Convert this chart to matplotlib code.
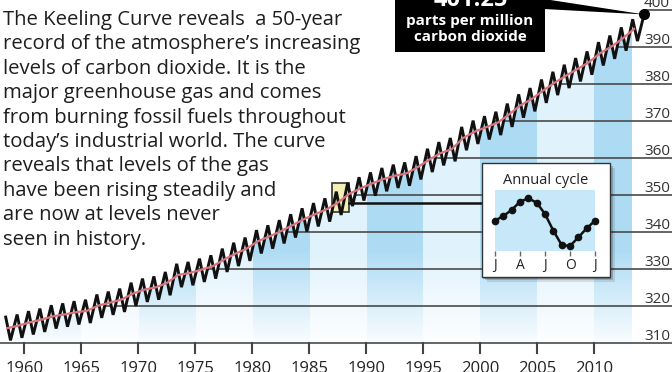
import numpy as np
import matplotlib
matplotlib.use("Agg")
import matplotlib.pyplot as plt
from matplotlib.patches import Rectangle, Polygon

plt.rcParams['font.family'] = ['Open Sans', 'DejaVu Sans']

# --- data (ppm) ---
years = list(range(1958, 2015))
annual_mean = [314.0, 314.7, 315.6, 316.3, 317.2, 317.7, 318.3, 318.7, 320.1, 320.9,
               321.7, 323.3, 324.4, 325.0, 326.2, 328.4, 328.9, 329.8, 330.7, 332.5,
               334.1, 335.5, 337.5, 338.8, 340.2, 341.8, 343.4, 344.8, 346.1, 347.9,
               350.3, 351.8, 353.1, 354.3, 355.2, 355.8, 357.5, 359.5, 361.3, 362.4,
               365.4, 367.1, 368.3, 369.5, 371.7, 374.2, 375.9, 378.2, 380.3, 382.2,
               384.0, 385.8, 388.3, 390.1, 392.3, 394.9]
# spring maximum and autumn minimum of each year
peaks = [317.0, 317.7, 318.6, 319.3, 320.2, 320.7, 321.3, 321.7, 323.1, 323.9,
         324.7, 326.3, 327.4, 328.0, 329.2, 331.4, 331.9, 332.8, 333.7, 335.5,
         337.1, 338.5, 340.5, 341.8, 343.2, 344.8, 346.4, 347.8, 349.1, 350.9,
         353.3, 354.8, 356.1, 357.3, 358.2, 358.8, 360.5, 362.5, 364.3, 365.4,
         368.4, 370.1, 371.3, 372.5, 374.7, 377.2, 378.9, 381.2, 383.3, 385.2,
         387.0, 388.8, 391.3, 393.1, 395.3, 397.5, 398.8]
troughs = [310.7, 311.4, 312.3, 313.0, 313.9, 314.4, 315.0, 315.4, 316.8, 317.6,
           318.4, 320.0, 321.1, 321.7, 322.9, 325.1, 325.6, 326.5, 327.4, 329.2,
           330.8, 332.2, 334.2, 335.5, 336.9, 338.5, 340.1, 341.5, 342.8, 344.6,
           347.0, 348.5, 349.8, 351.0, 351.9, 352.5, 354.2, 356.2, 358.0, 359.1,
           362.1, 363.8, 365.0, 366.2, 368.4, 370.9, 372.6, 374.9, 377.0, 378.9,
           380.7, 382.5, 385.0, 386.8, 389.0, 391.6]
cycle = [0.0, 0.7, 1.6, 2.85, 3.35, 2.7, 1.0, -1.5, -3.65, -3.8, -2.5, -1.15, 0.0]
cycle_labels = ['J', 'A', 'J', 'O', 'J']
tick_years = list(range(1960, 2015, 5))
ppm_ticks = list(range(310, 401, 10))
record = "401.25"

# --- layout: canvas in pixels mapped to data ---
W, H = 672, 372
X0, X1 = 1957.87, 2016.82
YB, YT = 302.16, 402.7


def X(px):
    return X0 + px / W * (X1 - X0)


def Y(py):
    return YT - py / H * (YT - YB)


fig = plt.figure(figsize=(6.72, 3.72), dpi=100)
ax = fig.add_axes([0, 0, 1, 1])
ax.axis('off')

# zigzag curve
cx, cy = [], []
for i, yr in enumerate(years):
    cx.append(yr + 0.37)
    cy.append(peaks[i])
    if i < len(troughs):
        cx.append(yr + 0.79)
        cy.append(troughs[i])

under = Polygon([(X0, YB), (X0, cy[0])] + list(zip(cx, cy)) + [(cx[-1], YB)],
                closed=True, transform=ax.transData)
grid_clip = Polygon([(X0, YB), (X0, cy[0])] + list(zip(cx, cy)) +
                    [(cx[-1], YT), (X1, YT), (X1, YB)],
                    closed=True, transform=ax.transData)

# blue 5-year bands fading towards the bottom
band_end = 2013.25
gx = np.linspace(X0, band_end, 700)
gy = np.linspace(YB, YT, 300)
dark = np.array([0.68, 0.86, 0.96])
light = np.array([0.88, 0.95, 0.99])
even = (np.floor((gx - 1960) / 5).astype(int) % 2) == 0
col = np.where(even[:, None], dark, light)
t = np.clip((gy - 308.1) / 27, 0, 1)
img = 1 - t[:, None, None] * (1 - col[None, :, :])
im = ax.imshow(img, extent=(X0, band_end, YB, YT), origin='lower',
               aspect='auto', interpolation='nearest', zorder=1)
im.set_clip_path(under)

# grid lines only below the curve
for v in ppm_ticks:
    ln, = ax.plot([X0, X1], [v, v], color='#4a4a4a', lw=1.2, zorder=2)
    ln.set_clip_path(grid_clip)
    ax.text(X(670), v + 3 / 3.7, str(v), ha='right', va='baseline',
            fontsize=11, color='#333333', zorder=3)

for yr in tick_years:
    ax.plot([yr, yr], [310, Y(353)], color='#444444', lw=1.5, zorder=2)
    ax.text(yr, Y(373), str(yr), ha='center', va='baseline', fontsize=12,
            color='#222222')

# highlighted year and connector
ax.add_patch(Rectangle((1987.0, 345.4), 1.5, 7.8, fc='#f4efb4', ec='#333333',
                       lw=1.2, zorder=3))
ax.plot([1988.5, X(482)], [347.8, 347.8], color='#111111', lw=1.8, zorder=4)

ax.plot(cx, cy, color='#111111', lw=2.1, zorder=5, solid_joinstyle='miter')
ax.plot([y + 0.5 for y in years[:-1]], annual_mean, color='#d8747c', lw=1.6,
        zorder=6)

# callout
ax.add_patch(Rectangle((X(395), Y(52)), X(545) - X(395), Y(-5) - Y(52),
                       fc='black', ec='none', zorder=8))
ax.add_patch(Polygon([(X(544), Y(-1)), (X(544), Y(9)), (cx[-1], cy[-1])],
                     closed=True, fc='black', ec='none', zorder=8))
ax.plot(cx[-1], cy[-1], 'o', color='black', ms=7, zorder=9)
ax.text(X(471), Y(6), record, ha='center', va='baseline', fontsize=17,
        fontweight='bold', color='white', zorder=9)
ax.text(X(470), Y(25), 'parts per million', ha='center', va='baseline',
        fontsize=11, fontweight='bold', color='white', zorder=9)
ax.text(X(470), Y(41), 'carbon dioxide', ha='center', va='baseline',
        fontsize=11, fontweight='bold', color='white', zorder=9)

# inset box with shadow
bx0, by0, bx1, by1 = 482, 163, 610, 277
for off, a in [(5, 0.10), (3, 0.18), (1.5, 0.25)]:
    ax.add_patch(Rectangle((X(bx0 + off), Y(by1 + off)), X(bx1) - X(bx0),
                           Y(by0) - Y(by1), fc='black', alpha=a, ec='none',
                           zorder=6))
ax.add_patch(Rectangle((X(bx0), Y(by1)), X(bx1) - X(bx0), Y(by0) - Y(by1),
                       fc='white', ec='#333333', lw=1.0, zorder=7))
ax.text(X(546), Y(184), 'Annual cycle', ha='center', va='baseline',
        fontsize=10.5, color='#222222', zorder=8)

ax.set_xlim(X0, X1)
ax.set_ylim(YB, YT)

# text block
story = ["The Keeling Curve reveals  a 50-year",
         "record of the atmosphere\u2019s increasing",
         "levels of carbon dioxide. It is the",
         "major greenhouse gas and comes",
         "from burning fossil fuels throughout",
         "today\u2019s industrial world. The curve",
         "reveals that levels of the gas",
         "have been rising steadily and",
         "are now at levels never",
         "seen in history."]
for i, line in enumerate(story):
    ax.text(X(3), Y(25 + 24.4 * i), line, ha='left', va='baseline',
            fontsize=14.6, color='#1e1e1e', zorder=8)

# inset chart
ax2 = fig.add_axes([495 / W, 1 - 251 / H, 100 / W, 61 / H])
ax2.set_facecolor('#c6e8f8')
ax2.plot(range(len(cycle)), cycle, color='#111111', lw=1.8, marker='o',
         ms=4.5, clip_on=False)
ax2.set_xlim(0, 12)
ax2.set_ylim(-4.55, 4.6)
for s in ax2.spines.values():
    s.set_visible(False)
ax2.set_yticks([])
ax2.set_xticks([0, 3, 6, 9, 12])
ax2.set_xticklabels(cycle_labels, fontsize=10, color='#222222')
ax2.tick_params(axis='x', length=3.5, width=1, color='#666666', pad=1.5)

fig.savefig('out.png', dpi=100)
